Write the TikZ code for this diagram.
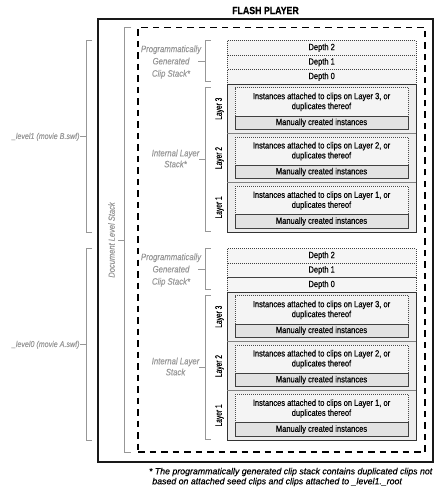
\documentclass[tikz,border=0pt]{standalone}
\usepackage{fontspec}
\setmainfont[FakeStretch=0.84,FakeBold=0.4]{Liberation Sans}
\newfontfamily\layerfont[FakeStretch=0.7,FakeBold=0.4]{Liberation Sans}
\newfontfamily\notefont[FakeStretch=0.98,FakeBold=0.3]{Liberation Sans}
\newfontfamily\grayfont[FakeStretch=0.84,FakeBold=0.15]{Liberation Sans}
\definecolor{lbl}{HTML}{979797}
\definecolor{depthfill}{HTML}{F5F5F5}
\definecolor{layerfill}{HTML}{EDEDED}
\definecolor{instfill}{HTML}{F4F4F4}
\definecolor{manfill}{HTML}{E2E2E2}
\begin{document}
\begin{tikzpicture}[x=1bp,y=-1bp,
  every node/.style={inner sep=0pt, outer sep=0pt},
  txt/.style={font=\fontsize{9}{10}\selectfont},
  graytxt/.style={font=\fontsize{9.3}{12.3}\grayfont\itshape, text=lbl, align=center},
  leveltxt/.style={font=\fontsize{8.5}{10}\grayfont\itshape, text=lbl},
  depthbox/.style={draw=black!75, line width=0.5bp, dash pattern=on 0.8bp off 1.2bp, fill=depthfill, txt, minimum width=188.7bp, minimum height=14.5bp},
  layerblock/.style={draw=black!80, line width=0.8bp, fill=layerfill, minimum width=188.7bp, minimum height=148bp},
  instbox/.style={draw=black!70, line width=0.5bp, dash pattern=on 0.8bp off 1.2bp, fill=instfill, txt, align=center, minimum width=173bp, minimum height=28.3bp},
  manbox/.style={draw=black!75, line width=0.7bp, fill=manfill, txt, minimum width=173bp, minimum height=13.5bp},
  sepline/.style={draw=black!50, line width=0.8bp},
  bracket/.style={draw=lbl, line width=0.6bp},
  layerlbl/.style={font=\fontsize{9.5}{10}\layerfont, rotate=90},
  playerbox/.style={draw=black!90, line width=2bp, minimum width=335.2bp, minimum height=442.7bp},
  docbox/.style={draw=black, line width=1.5bp, dash pattern=on 6.5bp off 5bp, minimum width=287bp, minimum height=424.5bp},
]
\useasboundingbox (0,0) rectangle (442,488);

% title and frames
\node[font=\fontsize{10.5}{12}\selectfont\bfseries] (title) at (265.5,10.5) {FLASH PLAYER};
\node[playerbox] (player) at (265.4,240.15) {};
\node[docbox] (docstack) at (281.5,239.75) {};

% document level stack bracket
\draw[bracket] (131,27.5) -- (124.5,27.5) -- (124.5,452) -- (131,452);
\coordinate (docmid) at (124.5,240);
\node[graytxt, font=\fontsize{9}{12}\grayfont\itshape, rotate=90] (doclbl) at (111.5,240) {Document Level Stack};
\draw[bracket] (docmid) -- ++(-6.5,0);

\foreach \o/\s/\st/\lv in {0/B/{Stack*}/1, 208/A/{Stack}/0}{
  % depth stack
  \node[depthbox] (dtwo\s) at (321.65,{47.75+\o}) {Depth 2};
  \node[depthbox] (done\s) at (321.65,{62.25+\o}) {Depth 1};
  \node[depthbox] (dzero\s) at (321.65,{76.75+\o}) {Depth 0};
  % layer stack
  \node[layerblock] (lb\s) at (321.65,{158+\o}) {};
  \foreach \n/\t in {3/84,2/133.3,1/182.7}{
    \pgfmathsetmacro\T{\t+\o}
    \ifnum\n<3 \draw[sepline] (227.3,\T) -- (416,\T); \fi
    \node[instbox] (inst\n\s) at (321.5,\T+17.85) {Instances attached to clips on Layer \n, or\\duplicates thereof};
    \node[manbox] (man\n\s) at (321.5,\T+38.75) {Manually created instances};
    \node[layerlbl] (lay\n\s) at (219.5,\T+24.7) {Layer \n};
  }
  % clip stack bracket and label
  \draw[bracket] (210.5,{40.7+\o}) -- (205,{40.7+\o}) -- (205,{81.5+\o}) -- (210.5,{81.5+\o});
  \node[graytxt] (cs\s) at (171,{62+\o}) {Programmatically\\Generated\\Clip Stack*};
  \coordinate (csb\s) at (205,{61.1+\o});
  \draw[bracket] (csb\s) -- ++(-7.5,0);
  % internal layer bracket and label
  \draw[bracket] (210.5,{87.3+\o}) -- (205,{87.3+\o}) -- (205,{231.7+\o}) -- (210.5,{231.7+\o});
  \node[graytxt, font=\fontsize{9.3}{11}\grayfont\itshape] (ils\s) at (175.5,{158.5+\o}) {Internal Layer\\\st};
  \coordinate (ilb\s) at (205,{159.5+\o});
  \draw[bracket] (ilb\s) -- ++(-6.5,0);
  % level bracket and label
  \draw[bracket] (92,{40.7+\o}) -- (86,{40.7+\o}) -- (86,{232+\o}) -- (92,{232+\o});
  \coordinate (lvb\s) at (86,{136.3+\o});
  \node[leveltxt, anchor=east] (lvl\s) at (79.5,{136.8+\o}) {\_level\lv{} (movie \s.swf)};
  \draw[bracket] (lvb\s) -- (lvl\s.east |- lvb\s);
}

% footnote
\node[anchor=north west, align=left, font=\fontsize{9}{10}\notefont\itshape] (note) at (149,467.8)
  {* The programmatically generated clip stack contains duplicated clips not\\\hspace*{3.3bp}based on attached seed clips and clips attached to \_level1.\_root};
\end{tikzpicture}
\end{document}
